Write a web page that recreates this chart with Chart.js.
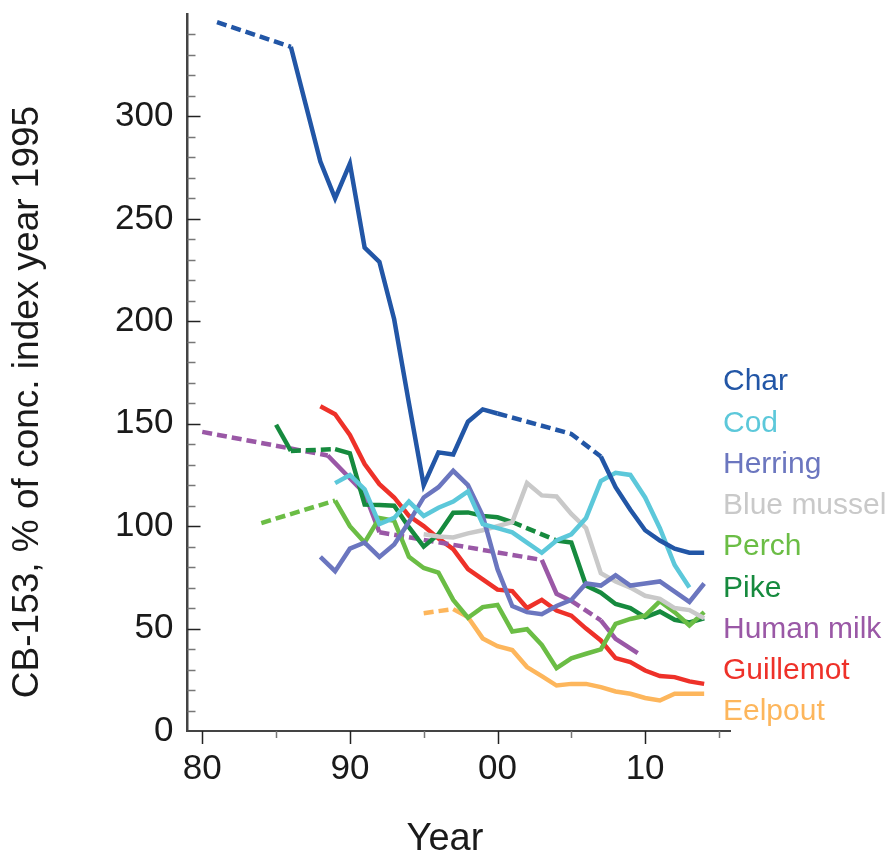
<!DOCTYPE html>
<html>
<head>
<meta charset="utf-8">
<script src="https://cdn.jsdelivr.net/npm/chart.js@4.4.1/dist/chart.umd.min.js"></script>
<style>
  html, body { margin: 0; padding: 0; background: #fff; }
</style>
</head>
<body>
<canvas id="chart" width="890" height="859"></canvas>
<script>
// data (year, % of 1995 index); dashed = interpolated spans
const charYears = [1981, 1986, 1987, 1988, 1989, 1990, 1991, 1992, 1993, 1994, 1995, 1996, 1997, 1998, 1999, 2000, 2005, 2007, 2008, 2009, 2010, 2011, 2012, 2013, 2014];
const charValues = [346, 334, 306, 278, 260, 277, 236, 229, 201, 160, 120, 136, 135, 151, 157, 155, 145, 134, 119, 108, 98, 93, 89, 87, 87];
const charDashed = [[1981, 1986], [2000, 2007]];

const codYears = [1989, 1990, 1991, 1992, 1993, 1994, 1995, 1996, 1997, 1998, 1999, 2000, 2001, 2002, 2003, 2004, 2005, 2006, 2007, 2008, 2009, 2010, 2011, 2012, 2013];
const codValues = [121, 125, 118, 101, 104, 112, 105, 109, 112, 117, 101, 99, 97, 92, 87, 93, 96, 104, 122, 126, 125, 114, 99, 81, 70];

const herringYears = [1988, 1989, 1990, 1991, 1992, 1993, 1994, 1995, 1996, 1997, 1998, 1999, 2000, 2001, 2002, 2003, 2004, 2005, 2006, 2007, 2008, 2009, 2010, 2011, 2012, 2013, 2014];
const herringValues = [85, 78, 89, 92, 85, 91, 102, 114, 119, 127, 120, 105, 79, 61, 58, 57, 61, 64, 72, 71, 76, 71, 72, 73, 68, 63, 72];

const musselYears = [1995, 1996, 1997, 1998, 1999, 2000, 2001, 2002, 2003, 2004, 2005, 2006, 2007, 2008, 2009, 2010, 2011, 2012, 2013, 2014];
const musselValues = [96, 95, 94.5, 96.5, 98, 100, 102, 121, 115, 114.5, 106, 99, 77, 73, 70, 66, 64.5, 60, 59, 55];

const perchYears = [1984, 1989, 1990, 1991, 1992, 1993, 1994, 1995, 1996, 1997, 1998, 1999, 2000, 2001, 2002, 2003, 2004, 2005, 2006, 2007, 2008, 2009, 2010, 2011, 2012, 2013, 2014];
const perchValues = [101.5, 112.5, 100, 92, 104, 102.6, 85, 79.6, 77.3, 64, 55.3, 60.5, 61.5, 48.6, 49.7, 42, 30.7, 35.5, 37.7, 39.8, 52.3, 54.7, 56.3, 63.4, 58, 51.5, 58];
const perchDashed = [[1984, 1989]];

const pikeYears = [1985, 1986, 1989, 1990, 1991, 1992, 1993, 1994, 1995, 1996, 1997, 1998, 1999, 2000, 2001, 2004, 2005, 2006, 2007, 2008, 2009, 2010, 2011, 2012, 2013, 2014];
const pikeValues = [149.5, 136.7, 137.6, 135.6, 110.5, 110.3, 110, 99.5, 90, 96, 106.5, 106.7, 105, 104.3, 102, 93, 92, 71, 67.5, 62, 60, 55.5, 58.3, 54.3, 53, 55];
const pikeDashed = [[1986, 1989], [2001, 2004]];

const milkYears = [1980, 1988.5, 1991, 1992, 2003, 2004, 2005, 2007, 2008, 2009.5];
const milkValues = [146, 134.5, 116, 97, 83.5, 67, 63.5, 54, 45, 38];
const milkDashed = [[1980, 1988.5], [1992, 2003], [2005, 2007]];

const guillemotYears = [1988, 1989, 1990, 1991, 1992, 1993, 1994, 1995, 1996, 1997, 1998, 1999, 2000, 2001, 2002, 2003, 2004, 2005, 2006, 2007, 2008, 2009, 2010, 2011, 2012, 2013, 2014];
const guillemotValues = [158.5, 154.6, 144.5, 130.3, 120.5, 114, 105, 100, 94, 88.8, 79, 74, 69, 68.3, 60, 64, 58.8, 56.3, 50, 44.2, 35.6, 33.6, 29.5, 26.8, 26.3, 24.2, 23];

const eelpoutYears = [1995, 1997, 1998, 1999, 2000, 2001, 2002, 2003, 2004, 2005, 2006, 2007, 2008, 2009, 2010, 2011, 2012, 2013, 2014];
const eelpoutValues = [57.5, 59.5, 55.6, 45.2, 41.4, 39.5, 31.2, 26.8, 22.2, 23, 23, 21.4, 19.3, 18.2, 16.1, 14.9, 18.2, 18.2, 18.2];
const eelpoutDashed = [[1995, 1997]];

const names = ['Char', 'Cod', 'Herring', 'Blue mussel', 'Perch', 'Pike', 'Human milk', 'Guillemot', 'Eelpout'];
const colors = ['#2256a6', '#5cc8da', '#6b76bf', '#c9c9c9', '#6bbd45', '#168a3e', '#9a58a6', '#ee3129', '#fdb65c'];

const xTickLabels = { 1980: '80', 1990: '90', 2000: '00', 2010: '10' };
const yTickLabels = [0, 50, 100, 150, 200, 250, 300];

const FONT = "'Liberation Sans', Arial, Helvetica, sans-serif";

function makeSet(i, years, values, dashed) {
  dashed = dashed || [];
  return {
    label: names[i],
    data: years.map((yr, k) => ({ x: yr, y: values[k] })),
    borderColor: colors[i],
    borderWidth: 4.5,
    pointRadius: 0,
    tension: 0,
    fill: false,
    segment: {
      borderDash: ctx => dashed.some(d => ctx.p0.parsed.x >= d[0] && ctx.p1.parsed.x <= d[1]) ? [10, 5] : undefined
    }
  };
}

// axis ticks point inwards on y, outwards on x, plus the coloured names on the right
const decorations = {
  id: 'decorations',
  afterDraw(chart) {
    const { ctx, chartArea: a, scales: { x, y } } = chart;
    ctx.save();
    ctx.lineCap = 'butt';
    for (let v = 10; v < 350; v += 10) {
      const py = Math.round(y.getPixelForValue(v)) + 0.5;
      const major = v % 50 === 0;
      ctx.strokeStyle = major ? '#222' : '#777';
      ctx.lineWidth = 1.5;
      ctx.beginPath();
      ctx.moveTo(a.left, py);
      ctx.lineTo(a.left + (major ? 13 : 8), py);
      ctx.stroke();
    }
    for (let yr = 1980; yr <= 2015; yr += 5) {
      const px = Math.round(x.getPixelForValue(yr)) + 0.5;
      const major = yr % 10 === 0;
      ctx.strokeStyle = major ? '#222' : '#777';
      ctx.lineWidth = 1.5;
      ctx.beginPath();
      ctx.moveTo(px, a.bottom);
      ctx.lineTo(px, a.bottom + (major ? 13 : 7));
      ctx.stroke();
    }

    ctx.textAlign = 'left';
    ctx.textBaseline = 'middle';
    ctx.font = '30px ' + FONT;
    names.forEach((n, i) => {
      ctx.fillStyle = colors[i];
      ctx.fillText(n, a.right - 7, a.top + 368 + i * 41.25);
    });

    ctx.fillStyle = '#1a1a1a';
    ctx.font = '38px ' + FONT;
    ctx.textAlign = 'center';
    ctx.fillText('Year', 445, 840);
    ctx.font = '37px ' + FONT;
    ctx.translate(28, 402);
    ctx.rotate(-Math.PI / 2);
    ctx.fillText('CB-153, % of conc. index year 1995', 0, 0);
    ctx.restore();
  }
};

new Chart(document.getElementById('chart'), {
  type: 'line',
  data: {
    datasets: [
      makeSet(0, charYears, charValues, charDashed),
      makeSet(1, codYears, codValues),
      makeSet(2, herringYears, herringValues),
      makeSet(3, musselYears, musselValues),
      makeSet(4, perchYears, perchValues, perchDashed),
      makeSet(5, pikeYears, pikeValues, pikeDashed),
      makeSet(6, milkYears, milkValues, milkDashed),
      makeSet(7, guillemotYears, guillemotValues),
      makeSet(8, eelpoutYears, eelpoutValues, eelpoutDashed)
    ]
  },
  options: {
    responsive: false,
    animation: false,
    devicePixelRatio: 1,
    layout: { autoPadding: false, padding: { top: 14, right: 160, left: 0, bottom: 0 } },
    plugins: { legend: { display: false }, tooltip: { enabled: false } },
    scales: {
      x: {
        type: 'linear',
        min: 1979,
        max: 2015.75,
        afterFit: s => { s.height = 128; s.paddingLeft = 0; s.paddingRight = 0; },
        afterBuildTicks: s => { s.ticks = Object.keys(xTickLabels).map(v => ({ value: +v })); },
        grid: { display: false },
        border: { display: true, color: '#444', width: 2 },
        ticks: {
          padding: 9,
          maxRotation: 0,
          autoSkip: false,
          color: '#1a1a1a',
          font: { family: FONT, size: 35 },
          callback: v => xTickLabels[v]
        }
      },
      y: {
        min: 0,
        max: 350,
        afterFit: s => { s.width = 187.5; s.paddingTop = 0; s.paddingBottom = 0; },
        afterBuildTicks: s => { s.ticks = yTickLabels.map(v => ({ value: v })); },
        grid: { display: false },
        border: { display: true, color: '#444', width: 2.5 },
        ticks: {
          padding: 6,
          color: '#1a1a1a',
          font: { family: FONT, size: 35 },
          callback: v => String(v)
        }
      }
    }
  },
  plugins: [decorations]
});
</script>
</body>
</html>
